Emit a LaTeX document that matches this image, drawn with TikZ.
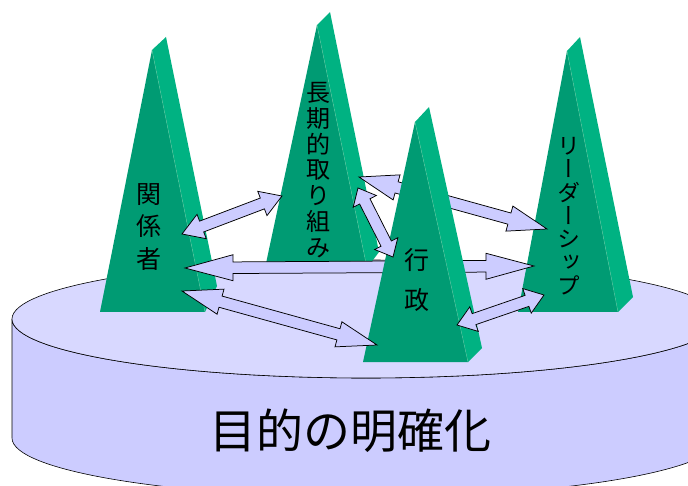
\documentclass[tikz,border=0pt]{standalone}
\usepackage{fontspec}
\usepackage{graphicx}
\newfontfamily\jp{Noto Sans CJK JP}
\newfontfamily\jpv[RawFeature=+vert]{Noto Sans CJK JP}
\usetikzlibrary{calc}
\definecolor{pyrfront}{RGB}{0,155,115}
\definecolor{pyrside}{RGB}{0,178,130}
\definecolor{seamcol}{RGB}{80,200,155}
\definecolor{cyltopcol}{RGB}{216,216,255}
\definecolor{cylsidecol}{RGB}{204,204,255}
\definecolor{arrfill}{RGB}{204,204,255}
\tikzset{
  frontface/.style={fill=pyrfront, draw=none},
  sideface/.style={fill=pyrside, draw=none},
  seam/.style={draw=seamcol, line width=0.4pt},
  blockarrow/.style={fill=arrfill, draw=black, line width=0.75pt, line join=miter},
  cyltop/.style={fill=cyltopcol, draw=black, line width=0.6pt},
  cylside/.style={fill=cylsidecol, draw=black, line width=0.6pt},
  vlabel/.style={inner sep=0pt, align=center, text=black},
}
% pyramid: apex, back apex, base left, base right, side right
\newcommand{\pyr}[5]{%
  \fill[sideface] #1 -- #2 -- #5 -- #4 -- cycle;
  \fill[frontface] #1 -- #3 -- #4 -- cycle;
  \draw[seam] #1 -- #4;
}
% double block arrow between named tips #1 and #2, head length #3
\newcommand{\dblarr}[3]{%
  \coordinate (hA) at ($(#1)!#3!(#2)$);
  \coordinate (hB) at ($(#2)!#3!(#1)$);
  \filldraw[blockarrow] (#1)
    -- ($(hA)!13pt!90:(#2)$) -- ($(hA)!5.8pt!90:(#2)$)
    -- ($(hB)!5.8pt!-90:(#1)$) -- ($(hB)!13pt!-90:(#1)$)
    -- (#2)
    -- ($(hB)!13pt!90:(#1)$) -- ($(hB)!5.8pt!90:(#1)$)
    -- ($(hA)!5.8pt!-90:(#2)$) -- ($(hA)!13pt!-90:(#2)$)
    -- cycle;
}
\begin{document}
\begin{tikzpicture}[x=1pt,y=-1pt]
\useasboundingbox (0,0) rectangle (688,486);
% cylinder
\filldraw[cylside] (12,319) -- (12,438)
  arc[start angle=180, end angle=0, x radius=354, y radius=59]
  -- (720,319)
  arc[start angle=0, end angle=180, x radius=354, y radius=59] -- cycle;
\filldraw[cyltop] (366,319) ellipse[x radius=354, y radius=59];
\node[inner sep=0pt, font=\jp\fontsize{47}{50}\selectfont] (goal) at (350,431) {目的の明確化};

% pyramids 1, 2, 4
\pyr{(152,50)}{(166,37)}{(100,312)}{(205,312)}{(217,286)}
\node[vlabel, font=\jp\fontsize{25}{32.5}\selectfont] (p1) at (149,227) {関\\係\\者};
\pyr{(317,25)}{(330,12)}{(265,268)}{(367,268)}{(379,252)}
\node[vlabel, font=\jp\fontsize{24}{25.8}\selectfont] (p2) at (318,170) {長\\期\\的\\取\\り\\組\\み};
\pyr{(567,51)}{(580,37)}{(518,312)}{(618,312)}{(633,297)}
\node[vlabel, font=\jpv\fontsize{23}{23.3}\selectfont] (p4) at (569,216) {リ\\ー\\ダ\\ー\\シ\\ッ\\プ};

% arrow tips
\coordinate (t14a) at (185,268);
\coordinate (t14b) at (534,266);
\coordinate (t24a) at (359,177);
\coordinate (t24b) at (547,229);
\coordinate (t12a) at (182,234);
\coordinate (t12b) at (282,196);
\coordinate (t23a) at (358,188);
\coordinate (t23b) at (393,257);
\coordinate (t13a) at (182,291);
\coordinate (t13b) at (377,345);
\coordinate (t34a) at (457,325);
\coordinate (t34b) at (544,295);

% arrows behind pyramid 3
\dblarr{t14a}{t14b}{48pt}
\dblarr{t24a}{t24b}{39pt}

% pyramid 3
\pyr{(415,122)}{(429,107)}{(363,362)}{(468,362)}{(482,348)}
\node[vlabel, font=\jp\fontsize{25}{40}\selectfont] (p3) at (417,280) {行\\政};

% arrows in front
\dblarr{t12a}{t12b}{21pt}
\dblarr{t23a}{t23b}{15pt}
\dblarr{t13a}{t13b}{40pt}
\dblarr{t34a}{t34b}{18pt}
\end{tikzpicture}
\end{document}
